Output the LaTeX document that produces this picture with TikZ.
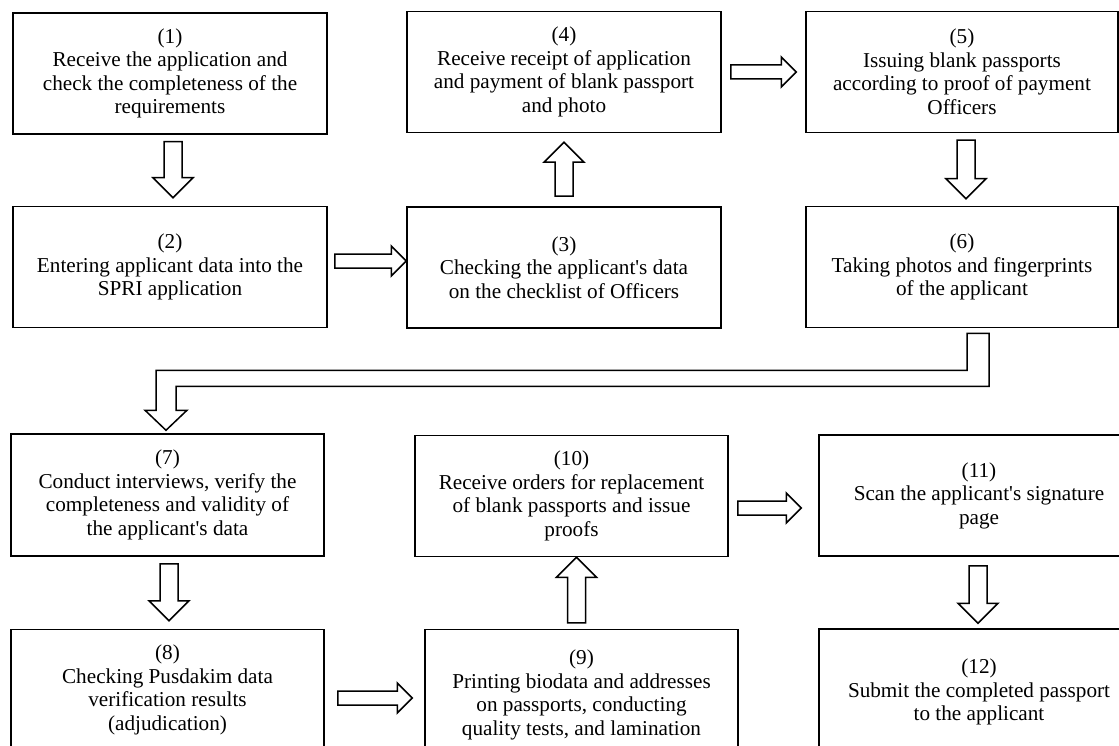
\documentclass[tikz,border=0pt]{standalone}
\usepackage{fontspec}
\setmainfont{Liberation Serif}
\usetikzlibrary{calc}

\tikzset{
	box/.style={draw, line width=1.5pt, minimum width=314pt, minimum height=121pt, inner sep=0pt, align=center, font=\fontsize{21.2}{23.5}\selectfont},
	hollow/.style={draw, fill=white, line width=1.5pt, line join=miter}
}
% block arrow: start, tip, half shaft, half head, head length
\newcommand{\blockarrow}[5]{\draw[hollow] let \p1=(#1), \p2=(#2), \n1={atan2(\y2-\y1,\x2-\x1)}, \n2={veclen(\x2-\x1,\y2-\y1)} in [shift={(\p1)}, rotate=\n1] (0pt,-#3) -- ({\n2-#5},-#3) -- ({\n2-#5},-#4) -- (\n2,0pt) -- ({\n2-#5},#4) -- ({\n2-#5},#3) -- (0pt,#3) -- cycle;}
\newcommand{\varrow}[2]{\blockarrow{#1}{#2}{9pt}{20pt}{20pt}}
\newcommand{\harrow}[2]{\blockarrow{#1}{#2}{7pt}{15pt}{15pt}}
\def\ap{\textquotesingle}

\begin{document}
\begin{tikzpicture}[x=1pt, y=-1pt]
			%%%%% START %%%%%
			\useasboundingbox (0,0) rectangle (1119,746);
			\clip (0,0) rectangle (1119,746);
			\fill[white] (0,0) rectangle (1119,746);
			
			\node[box] (b1) at (170,73.5) {(1)\\Receive the application and\\check the completeness of the\\requirements};
			\node[box] (b2) at (170,267) {(2)\\Entering applicant data into the\\SPRI application};
			\node[box] (b3) at (564,267.5) {(3)\\Checking the applicant\ap s data\\on the checklist of Officers};
			\node[box] (b4) at (564,72) {(4)\\Receive receipt of application\\and payment of blank passport\\and photo};
			\node[box, minimum width=312pt] (b5) at (962,72) {(5)\\Issuing blank passports\\according to proof of payment\\Officers};
			\node[box, minimum width=312pt] (b6) at (962,267) {(6)\\Taking photos and fingerprints\\of the applicant};
			
			\node[box, minimum width=313pt, minimum height=122pt] (b7) at (167.5,495) {(7)\\Conduct interviews, verify the\\completeness and validity of\\the applicant\ap s data};
			\node[box, minimum width=313pt] (b10) at (571.5,496) {(10)\\Receive orders for replacement\\of blank passports and issue\\proofs};
			\node[box, minimum width=320pt] (b11) at (979,495.5) {(11)\\Scan the applicant\ap s signature\\page};
			
			\node[box, minimum width=313pt] (b8) at (167.5,690) {(8)\\Checking Pusdakim data\\verification results\\(adjudication)};
			\node[box, minimum width=313pt, minimum height=131pt] (b9) at (581.5,695) {(9)\\Printing biodata and addresses\\on passports, conducting\\quality tests, and lamination};
			\node[box, minimum width=320pt, minimum height=126pt] (b12) at (979,692) {(12)\\Submit the completed passport\\to the applicant};
			
			\varrow{$(b1.south)+(3,7)$}{$(b2.north)+(3,-8)$}
			\harrow{$(b2.east)+(7,-6)$}{$(b3.west)+(0,-6.5)$}
			\varrow{$(b3.north)+(0,-10)$}{$(b4.south)+(0,9)$}
			\harrow{$(b4.east)+(9,0)$}{$(b5.west)+(-9,0)$}
			\varrow{$(b5.south)+(4,7)$}{$(b6.north)+(4,-7)$}
			
			% long return from (6) to (7)
			\coordinate (s) at ($(b6.south)+(16,5)$);
			\coordinate (t) at ($(b7.north)+(-1.5,-3)$);
			\draw[hollow] ($(s)+(-11,0)$) -- ($(s)+(11,0)$) -- ($(s)+(11,53)$) -| ($(t)+(10,-20)$) -- ($(t)+(21,-20)$) -- (t) -- ($(t)+(-21,-20)$) -- ($(t)+(-10,-20)$) |- ($(s)+(-11,37)$) -- cycle;
			
			\varrow{$(b7.south)+(1.5,7)$}{$(b8.north)+(1.5,-8)$}
			\harrow{$(b8.east)+(13,8)$}{$(b9.west)+(-12,3)$}
			\varrow{$(b9.north)+(-5,-6)$}{$(b10.south)+(5,0)$}
			\harrow{$(b10.east)+(9,12)$}{$(b11.west)+(-17,12.5)$}
			\varrow{$(b11.south)+(-1,9)$}{$(b12.north)+(-1,-5)$}
			%%%%% END %%%%%
\end{tikzpicture}
\end{document}
